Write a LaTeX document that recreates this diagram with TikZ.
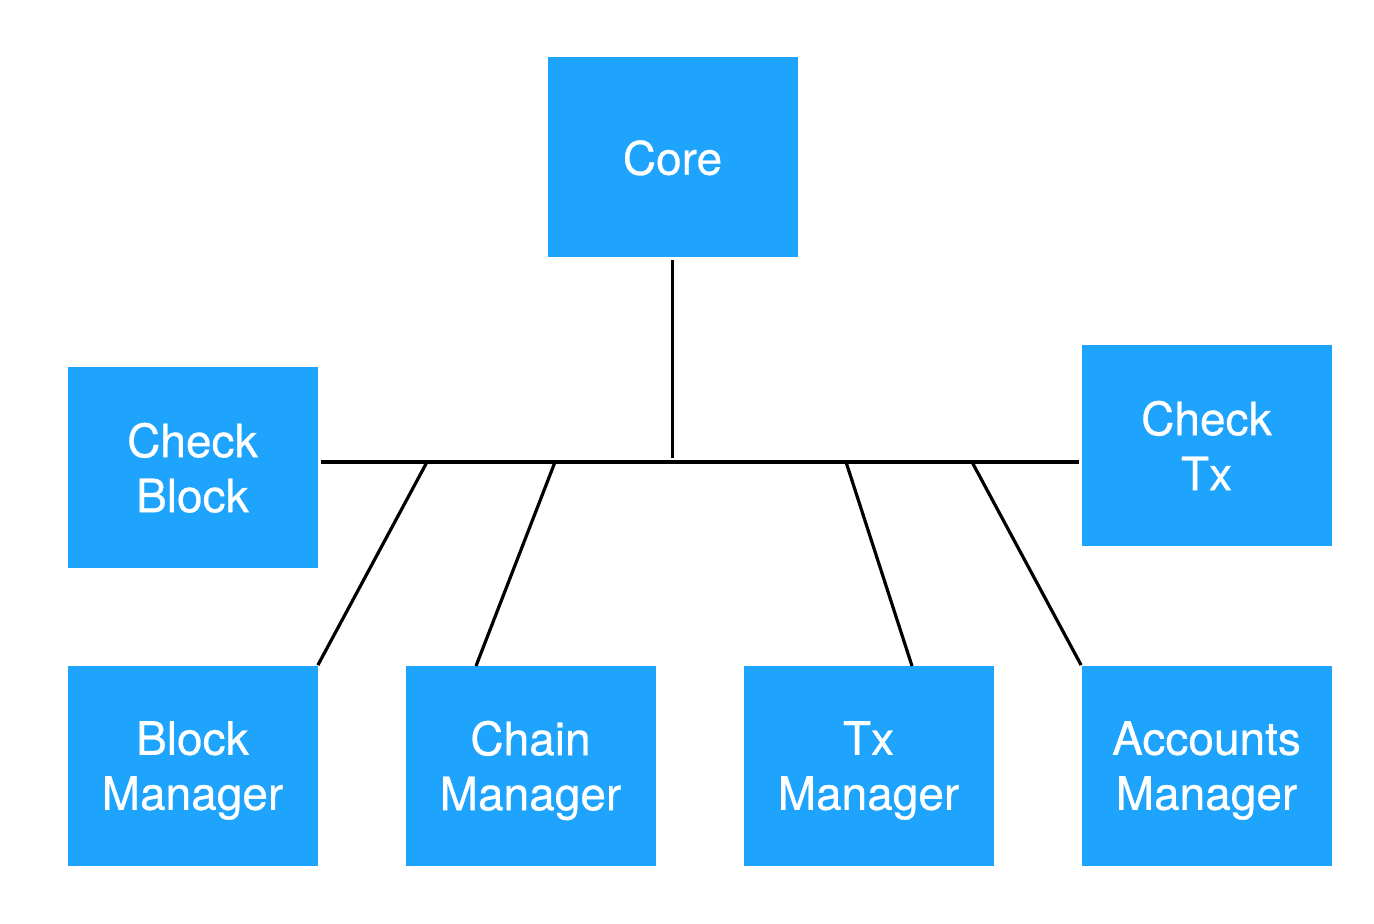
\documentclass[tikz,border=0pt]{standalone}
\usepackage{fontspec}
\setmainfont[FakeBold=0.6]{TeX Gyre Heros}
\definecolor{boxblue}{HTML}{1FA4FD}
\begin{document}
\begin{tikzpicture}[x=0.5pt,y=-0.5pt,
  mod/.style={fill=boxblue,draw=none,minimum width=125pt,minimum height=100pt,inner sep=0pt,
    text=white,align=center,text depth=0pt,font=\fontsize{23}{27.5}\selectfont},
  link/.style={line width=1.6pt,black}]
\useasboundingbox (0,0) rectangle (1374,924);
\node[mod] (core) at (672.5,157.5) {Core};
\node[mod] (cb) at (192.5,467.5) {Check\\Block};
\node[mod] (ctx) at (1206.5,445.5) {Check\\Tx};
\node[mod] (bm) at (192.5,765.5) {Block\\Manager};
\node[mod] (cm) at (530.5,765.5) {Chain\\Manager};
\node[mod] (tm) at (868.5,765.5) {Tx\\Manager};
\node[mod] (am) at (1206.5,765.5) {Accounts\\Manager};
\coordinate (j) at (672.5,462);
\coordinate (top) at (672.5,458);
\coordinate (j1) at (427,462);
\coordinate (j2) at (555,462);
\coordinate (j3) at (846,462);
\coordinate (j4) at (972,462);
\coordinate (e2) at (476,666);
\coordinate (e3) at (912,666);
\draw[link] (core.south) ++(0,2) -- (top);
\draw[link] ([xshift=1.5pt]cb.east |- j) -- ([xshift=-1pt]ctx.west |- j);
\draw[link] (j1) -- (bm.north east);
\draw[link] (j2) -- (e2);
\draw[link] (j3) -- (e3);
\draw[link] (j4) -- (am.north west);
\end{tikzpicture}
\end{document}
